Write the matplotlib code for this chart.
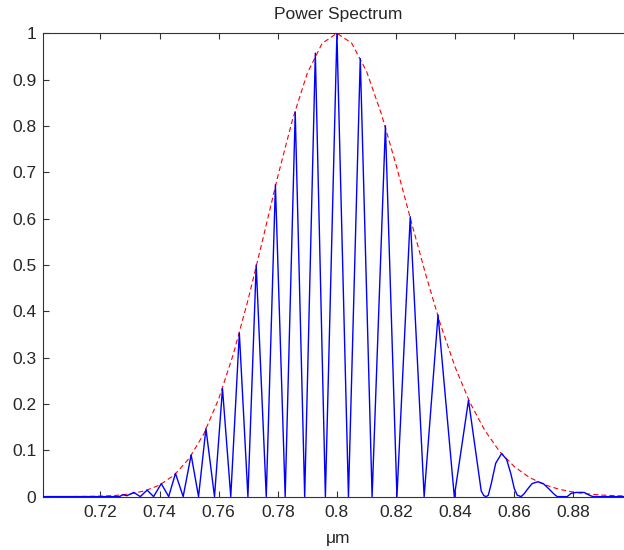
import matplotlib
matplotlib.use("Agg")
import matplotlib.pyplot as plt

# ---- data ----
# blue measured spectrum: peak / trough vertices (wavelength in um, normalized power)
spec_x = [0.7007, 0.7265, 0.7275, 0.7290, 0.7313, 0.7335, 0.7358, 0.7380, 0.7406, 0.7431,
          0.7454, 0.7480, 0.7507, 0.7532, 0.7557, 0.7586, 0.7613, 0.7641, 0.7670, 0.7699,
          0.7727, 0.7761, 0.7792, 0.7825, 0.7859, 0.7891, 0.7927, 0.7961, 0.8000, 0.8039,
          0.8079, 0.8119, 0.8164, 0.8203, 0.8248, 0.8295, 0.8342, 0.8397, 0.8445, 0.8488,
          0.8497, 0.8505, 0.8512, 0.8522, 0.8537, 0.8557, 0.8574, 0.8588, 0.8600, 0.8610,
          0.8623, 0.8633, 0.8647, 0.8660, 0.8679, 0.8698, 0.8718, 0.8735, 0.8745, 0.8779,
          0.8792, 0.8809, 0.8836, 0.8857, 0.8867, 0.9000]
spec_y = [0.0, 0.0, 0.004, 0.002, 0.009, 0.0, 0.014, 0.0, 0.028, 0.0,
          0.050, 0.0, 0.090, 0.0, 0.147, 0.0, 0.233, 0.0, 0.353, 0.0,
          0.500, 0.0, 0.673, 0.0, 0.830, 0.0, 0.957, 0.0, 1.000, 0.0,
          0.945, 0.0, 0.800, 0.0, 0.604, 0.0, 0.392, 0.0, 0.208, 0.012,
          0.002, 0.0, 0.003, 0.028, 0.072, 0.093, 0.080, 0.050, 0.017, 0.003,
          0.0, 0.006, 0.018, 0.028, 0.032, 0.028, 0.016, 0.005, 0.0, 0.0,
          0.007, 0.009, 0.009, 0.002, 0.0, 0.0]

# red dashed envelope
env_x = [0.700, 0.705, 0.710, 0.715, 0.720, 0.725, 0.730, 0.735, 0.740, 0.745,
         0.750, 0.755, 0.760, 0.765, 0.770, 0.775, 0.780, 0.785, 0.790, 0.795,
         0.800, 0.805, 0.810, 0.815, 0.820, 0.825, 0.830, 0.835, 0.840, 0.845,
         0.850, 0.855, 0.860, 0.865, 0.870, 0.875, 0.880, 0.885, 0.890, 0.895, 0.900]
env_y = [0.0000, 0.0000, 0.0001, 0.0004, 0.0010, 0.0024, 0.0057, 0.0123, 0.0248, 0.0466,
         0.0820, 0.1356, 0.2105, 0.3080, 0.4260, 0.5570, 0.6910, 0.8140, 0.9140, 0.9780,
         1.0000, 0.9785, 0.9180, 0.8265, 0.7160, 0.5966, 0.4800, 0.3720, 0.2790, 0.2029,
         0.1430, 0.0975, 0.0647, 0.0417, 0.0262, 0.0160, 0.0096, 0.0056, 0.0032, 0.0018, 0.0010]

xticks = [0.72, 0.74, 0.76, 0.78, 0.80, 0.82, 0.84, 0.86, 0.88]
xtick_labels = ["0.72", "0.74", "0.76", "0.78", "0.8", "0.82", "0.84", "0.86", "0.88"]
yticks = [0, 0.1, 0.2, 0.3, 0.4, 0.5, 0.6, 0.7, 0.8, 0.9, 1.0]
ytick_labels = ["0", "0.1", "0.2", "0.3", "0.4", "0.5", "0.6", "0.7", "0.8", "0.9", "1"]

title = "Power Spectrum"
xlabel = "\u03bcm"

# ---- figure ----
plt.rcParams['font.family'] = ['Liberation Sans', 'DejaVu Sans']
W, H = 624, 550
fig = plt.figure(figsize=(W / 100, H / 100), dpi=100)
left_px, right_px, top_px, bot_px = 43.3, 632.6, 33.2, 496.6
ax = fig.add_axes([left_px / W, 1 - bot_px / H, (right_px - left_px) / W, (bot_px - top_px) / H])

ax.plot(env_x, env_y, color='#ff0000', lw=0.8, linestyle=(0, (4.5, 2.8)), zorder=2)
ax.plot(spec_x, spec_y, color='#0000ff', lw=1.0, zorder=3)

ax.set_xlim(0.7007, 0.90)
ax.set_ylim(0, 1)
ax.set_xticks(xticks)
ax.set_xticklabels(xtick_labels)
ax.set_yticks(yticks)
ax.set_yticklabels(ytick_labels)

txt_color = '#262626'
fs = 12.5
ax.tick_params(direction='in', length=4.5, width=0.8, color='#333333',
               top=True, right=True, labelsize=fs, labelcolor=txt_color)
ax.tick_params(axis='x', pad=6)
ax.tick_params(axis='y', pad=5)
for s in ax.spines.values():
    s.set_color('#333333')
    s.set_linewidth(0.8)

ax.set_title(title, fontsize=fs, color=txt_color, pad=10)
ax.set_xlabel(xlabel, fontsize=fs, color=txt_color, labelpad=8)

fig.savefig("out.png", dpi=100)
